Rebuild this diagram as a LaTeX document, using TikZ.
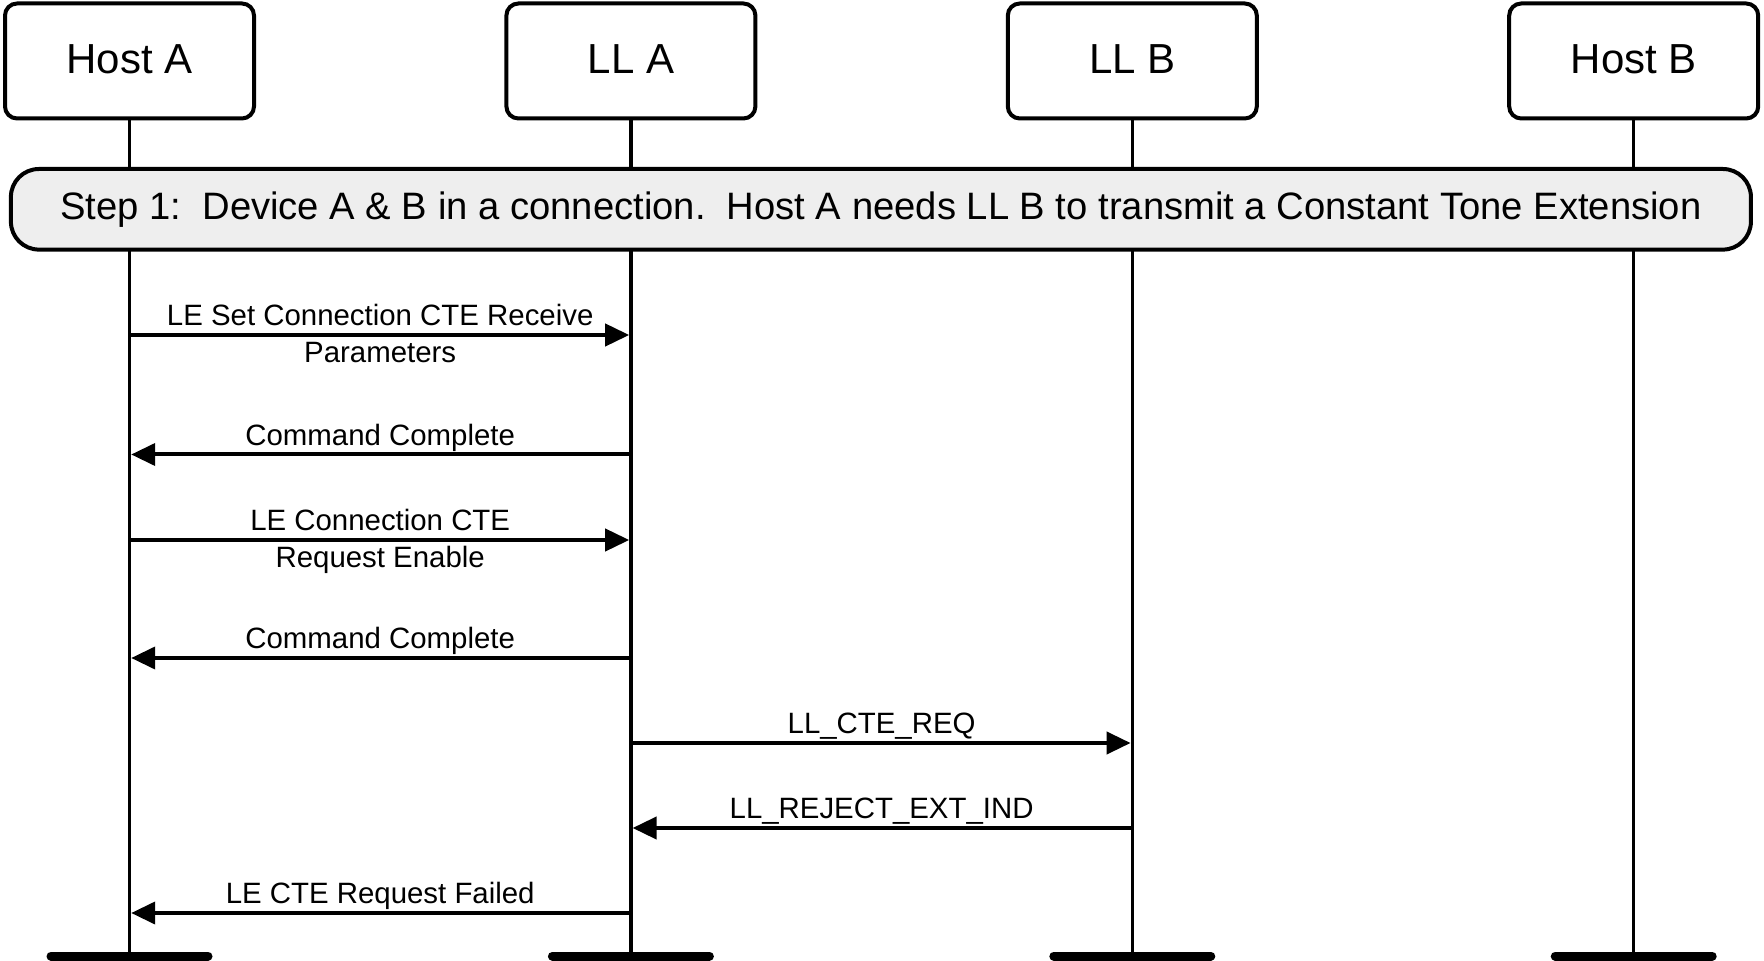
\documentclass[tikz,border=0pt]{standalone}
\usepackage{fontspec}
\setmainfont{Liberation Sans}
\usetikzlibrary{positioning,chains,arrows.meta}
\definecolor{stepgray}{HTML}{EEEEEE}
\tikzset{
		>={Triangle[length=12pt,width=11pt]},
		lifeline/.style={draw, line width=1.75pt},
		endbar/.style={draw, line width=4.5pt, line cap=round},
		msg/.style={draw, line width=2pt, ->, shorten >=0.85pt},
		msgtext/.style={
			anchor=base, 
			yshift=4.7pt, 
			inner sep=0pt, 
			align=center,
			font=\fontsize{14.7}{18.4}\selectfont},
		msgtwo/.style={msgtext, yshift=-18.4pt},
		steptape/.style={
			rectangle, 
			rounded corners=14pt, 
			fill=stepgray,
			draw=black, line width=2pt,
			minimum width=870pt, 
			minimum height=40.3pt, 
			font=\fontsize{19.1}{23}\selectfont},
	}

\begin{document}
\begin{tikzpicture}[
			x=0.5pt, y=-0.5pt,
			start chain = going right,
			node distance = 124.2pt,
			party/.style = {rectangle, draw, rounded corners=6pt, line width=2pt,
				minimum width=124.5pt, minimum height=57.5pt, text depth=2.2pt,
				font=\fontsize{21}{25}\selectfont, on chain},
			]
			\useasboundingbox (0,0) rectangle (1764,961);
			\node[party] (HA) at (129.5,61) {Host A};
			\node[party] (LA) {LL A};
			\node[party] (LB) {LL B};
			\node[party] (HB) {Host B};
			
			% lifelines
			\coordinate (HAend) at (HA |- 0,956);
			\coordinate (LAend) at (LA |- 0,956);
			\coordinate (LBend) at (LB |- 0,956);
			\coordinate (HBend) at (HB |- 0,956);
			\draw[lifeline] (HA) -- (HAend);
			\draw[lifeline] (LA) -- (LAend);
			\draw[lifeline] (LB) -- (LBend);
			\draw[lifeline] (HB) -- (HBend);
			\draw[endbar] ([xshift=-39.25pt]HAend) -- ([xshift=39.25pt]HAend);
			\draw[endbar] ([xshift=-39.25pt]LAend) -- ([xshift=39.25pt]LAend);
			\draw[endbar] ([xshift=-39.25pt]LBend) -- ([xshift=39.25pt]LBend);
			\draw[endbar] ([xshift=-39.25pt]HBend) -- ([xshift=39.25pt]HBend);
			
			\node[steptape] (S1) at (880.9,209.3) {Step 1:\ \ Device A \& B in a connection.\ \ Host A needs LL B to transmit a Constant Tone Extension};
			
			% messages
			\coordinate (a1) at (HA |- 0,335);   \coordinate (b1) at (LA |- 0,335);
			\coordinate (a2) at (HA |- 0,454.5); \coordinate (b2) at (LA |- 0,454.5);
			\coordinate (a3) at (HA |- 0,540);   \coordinate (b3) at (LA |- 0,540);
			\coordinate (a4) at (HA |- 0,658);   \coordinate (b4) at (LA |- 0,658);
			\coordinate (b5) at (LA |- 0,743);   \coordinate (c5) at (LB |- 0,743);
			\coordinate (b6) at (LA |- 0,828);   \coordinate (c6) at (LB |- 0,828);
			\coordinate (a7) at (HA |- 0,913);   \coordinate (b7) at (LA |- 0,913);
			
			\draw[msg] (a1) -- node[msgtwo] {LE Set Connection CTE Receive\\Parameters} (b1);
			\draw[msg] (b2) -- node[msgtext] {Command Complete} (a2);
			\draw[msg] (a3) -- node[msgtwo] {LE Connection CTE\\Request Enable} (b3);
			\draw[msg] (b4) -- node[msgtext] {Command Complete} (a4);
			\draw[msg] (b5) -- node[msgtext] {LL\_CTE\_REQ} (c5);
			\draw[msg] (c6) -- node[msgtext] {LL\_REJECT\_EXT\_IND} (b6);
			\draw[msg] (b7) -- node[msgtext] {LE CTE Request Failed} (a7);
			\end{tikzpicture}
\end{document}
